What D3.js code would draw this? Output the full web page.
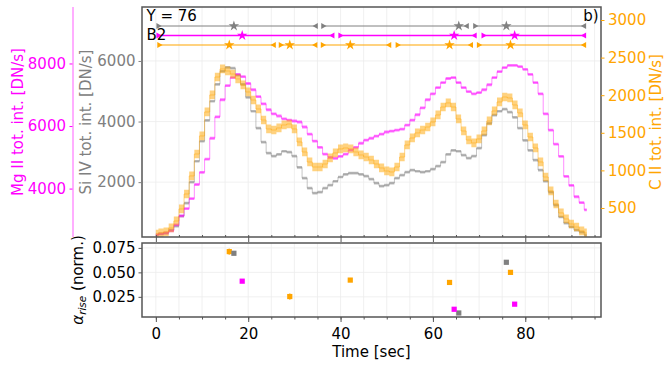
<!DOCTYPE html>
<html lang="en">
<head>
<meta charset="utf-8">
<title>Y = 76, B2 light curves</title>
<script src="https://d3js.org/d3.v7.min.js"></script>
<style>
    body { margin: 0; background: #fff; }
    svg text { font-family: 'DejaVu Sans', sans-serif; font-size: 15px; }
</style>
</head>
<body>
<div id="chart"></div>

<script>
/* global d3 */

// cadence of the raster (sec)
var cadence = 1.111;

// total intensities [DN/s]
var mgII = [2520, 2550, 2580, 2650, 2840, 3130, 3360, 3680, 4130, 4520,
    4940, 5610, 6290, 6840, 7290, 7550, 7650, 7580, 7360, 7160,
    6940, 6710, 6520, 6390, 6320, 6230, 6190, 6160, 6130, 5970,
    5740, 5520, 5320, 5100, 5000, 4970, 5030, 5100, 5230, 5320,
    5450, 5550, 5610, 5680, 5740, 5810, 5840, 5870, 5900, 6030,
    6190, 6360, 6580, 6840, 7030, 7230, 7390, 7520, 7550, 7390,
    7230, 7100, 7030, 7070, 7160, 7320, 7550, 7740, 7870, 7940,
    7940, 7900, 7810, 7650, 7390, 7030, 6390, 5870, 5420, 5030,
    4390, 4100, 3740, 3550, 3320];
var siIV = [250, 290, 320, 420, 550, 880, 1310, 2000, 2690, 3350,
    4040, 4670, 5230, 5660, 5790, 5760, 5530, 5230, 4800, 4340,
    3780, 3320, 2960, 2860, 2920, 3020, 2990, 2860, 2490, 2130,
    1800, 1640, 1670, 1800, 1900, 2030, 2170, 2260, 2300, 2300,
    2260, 2200, 2100, 1970, 1870, 1900, 1970, 2130, 2230, 2330,
    2400, 2360, 2330, 2360, 2430, 2530, 2660, 2920, 3050, 3020,
    2890, 2790, 2860, 3120, 3550, 3940, 4210, 4340, 4410, 4310,
    4140, 3780, 3380, 3050, 2730, 2400, 2030, 1670, 1240, 850,
    650, 520, 420, 350, 250];
var cII = [154, 168, 181, 234, 327, 487, 686, 926, 1218, 1458,
    1777, 2003, 2242, 2349, 2322, 2282, 2216, 2136, 2043, 1936,
    1817, 1670, 1551, 1537, 1564, 1604, 1617, 1551, 1378, 1245,
    1112, 1045, 1045, 1085, 1165, 1232, 1285, 1298, 1285, 1245,
    1205, 1178, 1138, 1085, 1032, 992, 979, 1045, 1178, 1338,
    1431, 1498, 1537, 1577, 1644, 1737, 1843, 1897, 1843, 1684,
    1524, 1404, 1365, 1418, 1524, 1657, 1790, 1910, 1976, 1963,
    1870, 1764, 1604, 1444, 1298, 1112, 912, 726, 553, 434,
    354, 287, 247, 194, 168];
var mgErr = 45, siErr = 45, cErr = 58;

// rise intervals [sec] and peak times (stars)
var siSegs = [[0.5, 34.7], [36.2, 67.4], [69.1, 92.8]];
var mgSegs = [[0.5, 38.3], [39.9, 69.1], [70.9, 92.8]];
var cSegs = [[0.7, 25.6], [27.0, 34.6], [36.1, 50.6], [52.3, 68.3], [69.9, 92.8]];

// alpha_rise (norm.) per rise phase
var siRiseT = [16.9, 65.6, 75.9],
    siRise = [0.0695, 0.0085, 0.0603],
    siRiseErr = [0.0018, 0.0006, 0.0008];
var mgRiseT = [18.7, 64.6, 77.7],
    mgRise = [0.0410, 0.0123, 0.0175],
    mgRiseErr = [0.0006, 0.0006, 0.0006];
var cRiseT = [15.9, 29.0, 42.1, 63.6, 76.8],
    cRise = [0.0712, 0.0253, 0.0421, 0.0397, 0.0500],
    cRiseErr = [0.0030, 0.0030, 0.0012, 0.0006, 0.0006];

var xTicks = [0, 20, 40, 60, 80],
    mgTicks = [4000, 6000, 8000],
    siTicks = [2000, 4000, 6000],
    cTicks = [500, 1000, 1500, 2000, 2500, 3000],
    aTicks = [0.025, 0.050, 0.075];

var MAGENTA = '#ff00ff', GRAY = '#808080', ORANGE = '#ffa500';

var svg = d3.select('#chart').append('svg')
    .attr('width', 664)
    .attr('height', 366);

var top_ = {left: 142, right: 601, top: 7, bottom: 237},
    bot = {left: 142, right: 601, top: 243, bottom: 317};

var x = d3.scaleLinear().domain([-3, 96.4]).range([top_.left, top_.right]);
var yMg = d3.scaleLinear().domain([2452, 9806]).range([top_.bottom, top_.top]);
var ySi = d3.scaleLinear().domain([190, 7780]).range([top_.bottom, top_.top]);
var yC = d3.scaleLinear().domain([114, 3173]).range([top_.bottom, top_.top]);
var yA = d3.scaleLinear().domain([0.0044, 0.080]).range([bot.bottom, bot.top]);

var times = d3.range(mgII.length).map(function(i) { return i * cadence; });
var minor = d3.range(0, 96, 5);

// grids
function grid(g, box, yScale, yVals) {
    g.selectAll('line.v').data(minor).enter().append('line')
        .attr('x1', function(d) { return x(d); }).attr('x2', function(d) { return x(d); })
        .attr('y1', box.top).attr('y2', box.bottom)
        .attr('stroke', '#ececec').attr('stroke-width', 0.8);
    g.selectAll('line.h').data(yVals).enter().append('line')
        .attr('x1', box.left).attr('x2', box.right)
        .attr('y1', function(d) { return yScale(d); }).attr('y2', function(d) { return yScale(d); })
        .attr('stroke', '#ececec').attr('stroke-width', 0.8);
}
grid(svg.append('g'), top_, ySi, siTicks);
grid(svg.append('g'), bot, yA, aTicks);

svg.append('clipPath').attr('id', 'clipTop')
    .append('rect')
    .attr('x', top_.left).attr('y', top_.top)
    .attr('width', top_.right - top_.left).attr('height', top_.bottom - top_.top);

var curves = svg.append('g').attr('clip-path', 'url(#clipTop)');

function drawBand(vals, err, yScale, color) {
    var rows = vals.map(function(v, i) { return {t: times[i], v: v}; });
    var band = d3.area()
        .curve(d3.curveStep)
        .x(function(d) { return x(d.t); })
        .y0(function(d) { return yScale(d.v - err); })
        .y1(function(d) { return yScale(d.v + err); });
    var line = d3.line()
        .curve(d3.curveStep)
        .x(function(d) { return x(d.t); })
        .y(function(d) { return yScale(d.v); });
    curves.append('path').datum(rows)
        .attr('d', band).attr('fill', color).attr('fill-opacity', 0.5);
    curves.append('path').datum(rows)
        .attr('d', line).attr('fill', 'none')
        .attr('stroke', color).attr('stroke-opacity', 0.45).attr('stroke-width', 1);
}

drawBand(siIV, siErr, ySi, GRAY);
drawBand(mgII, mgErr, yMg, MAGENTA);
drawBand(cII, cErr, yC, ORANGE);

// rise-phase rows at the top
var tri = d3.symbol().type(d3.symbolTriangle).size(16),
    star = d3.symbol().type(d3.symbolStar).size(34);

function drawRow(segs, peaks, yPos, color, lw) {
    var g = svg.append('g');
    segs.forEach(function(s) {
        g.append('line')
            .attr('x1', x(s[0])).attr('x2', x(s[1]))
            .attr('y1', yPos).attr('y2', yPos)
            .attr('stroke', color).attr('stroke-width', lw);
        g.append('path').attr('d', tri)
            .attr('transform', 'translate(' + x(s[0]) + ',' + yPos + ') rotate(90)')
            .attr('fill', color);
        g.append('path').attr('d', tri)
            .attr('transform', 'translate(' + x(s[1]) + ',' + yPos + ') rotate(-90)')
            .attr('fill', color);
    });
    peaks.forEach(function(t) {
        g.append('path').attr('d', star)
            .attr('transform', 'translate(' + x(t) + ',' + yPos + ')')
            .attr('fill', color);
    });
}

drawRow(siSegs, siRiseT, 26, GRAY, 1);
drawRow(mgSegs, mgRiseT, 35.5, MAGENTA, 1.6);
drawRow(cSegs, cRiseT, 45, ORANGE, 1.1);

// alpha_rise points
function drawRise(ts, vals, errs, color) {
    var g = svg.append('g');
    ts.forEach(function(t, i) {
        g.append('line')
            .attr('x1', x(t)).attr('x2', x(t))
            .attr('y1', yA(vals[i] - errs[i])).attr('y2', yA(vals[i] + errs[i]))
            .attr('stroke', color).attr('stroke-width', 1.6);
        g.append('rect')
            .attr('x', x(t) - 2.6).attr('y', yA(vals[i]) - 2.6)
            .attr('width', 5.2).attr('height', 5.2)
            .attr('fill', color);
    });
}
drawRise(cRiseT, cRise, cRiseErr, ORANGE);
drawRise(siRiseT, siRise, siRiseErr, GRAY);
drawRise(mgRiseT, mgRise, mgRiseErr, MAGENTA);

// frames
[top_, bot].forEach(function(b) {
    svg.append('rect')
        .attr('x', b.left).attr('y', b.top)
        .attr('width', b.right - b.left).attr('height', b.bottom - b.top)
        .attr('fill', 'none').attr('stroke', '#555').attr('stroke-width', 1.5);
});

function styleAxis(g, color) {
    g.select('.domain').remove();
    g.selectAll('line').attr('stroke', color).attr('stroke-width', 1);
    g.selectAll('text').attr('fill', color).style('font-size', '15px')
        .style('font-family', "'DejaVu Sans', sans-serif");
}

var intFmt = d3.format('d');

// x axes
var gx = svg.append('g').attr('transform', 'translate(0,' + bot.bottom + ')')
    .call(d3.axisBottom(x).tickValues(xTicks).tickSize(5).tickPadding(6.5).tickFormat(intFmt));
styleAxis(gx, '#000');
gx.selectAll('line').attr('stroke', '#555');
var gxm = svg.append('g').attr('transform', 'translate(0,' + bot.bottom + ')')
    .call(d3.axisBottom(x).tickValues(minor).tickSize(2.5).tickFormat(''));
styleAxis(gxm, '#555');

var gxt = svg.append('g').attr('transform', 'translate(0,' + top_.bottom + ')')
    .call(d3.axisBottom(x).tickValues(xTicks).tickSize(5).tickFormat(''));
styleAxis(gxt, '#555');
var gxtm = svg.append('g').attr('transform', 'translate(0,' + top_.bottom + ')')
    .call(d3.axisTop(x).tickValues(minor).tickSize(2).tickFormat(''));
styleAxis(gxtm, '#555');

// y axes
var gMg = svg.append('g').attr('transform', 'translate(73,0)')
    .call(d3.axisLeft(yMg).tickValues(mgTicks).tickSize(3.5).tickPadding(3.5).tickFormat(intFmt));
styleAxis(gMg, MAGENTA);
svg.append('line')
    .attr('x1', 73).attr('x2', 73).attr('y1', top_.top).attr('y2', top_.bottom)
    .attr('stroke', '#ff8cff').attr('stroke-width', 1.4);

var gSi = svg.append('g').attr('transform', 'translate(' + top_.left + ',0)')
    .call(d3.axisLeft(ySi).tickValues(siTicks).tickSize(3.5).tickPadding(3).tickFormat(intFmt));
styleAxis(gSi, GRAY);

var gC = svg.append('g').attr('transform', 'translate(' + top_.right + ',0)')
    .call(d3.axisRight(yC).tickValues(cTicks).tickSize(3.5).tickPadding(3.5).tickFormat(intFmt));
styleAxis(gC, ORANGE);

var gA = svg.append('g').attr('transform', 'translate(' + bot.left + ',0)')
    .call(d3.axisLeft(yA).tickValues(aTicks).tickSize(3.5).tickPadding(3).tickFormat(d3.format('.3f')));
styleAxis(gA, '#000');
gA.selectAll('line').attr('stroke', '#555');

// axis titles
function vLabel(xPos, yPos, text, color) {
    return svg.append('text')
        .attr('transform', 'translate(' + xPos + ',' + yPos + ') rotate(-90)')
        .attr('text-anchor', 'middle')
        .attr('fill', color)
        .text(text);
}
vLabel(22.5, 122, 'Mg II tot. int. [DN/s]', MAGENTA);
vLabel(90.5, 122, 'Si IV tot. int. [DN/s]', GRAY);
vLabel(661, 122, 'C II tot. int. [DN/s]', ORANGE);

var aLab = svg.append('text')
    .attr('transform', 'translate(83,280) rotate(-90)')
    .attr('text-anchor', 'middle')
    .attr('fill', '#000');
aLab.append('tspan').style('font-style', 'italic').text('α');
aLab.append('tspan').style('font-style', 'italic').style('font-size', '10.5px')
    .attr('dy', 3).text('rise');
aLab.append('tspan').attr('dy', -3).text(' (norm.)');

svg.append('text')
    .attr('x', (bot.left + bot.right) / 2).attr('y', 357)
    .attr('text-anchor', 'middle')
    .text('Time [sec]');

// panel annotations
svg.append('text').attr('x', 146.5).attr('y', 21).text('Y = 76');
svg.append('text').attr('x', 146.5).attr('y', 39.5).text('B2');
svg.append('text').attr('x', 598.5).attr('y', 21).attr('text-anchor', 'end').text('b)');
</script>
</body>
</html>
